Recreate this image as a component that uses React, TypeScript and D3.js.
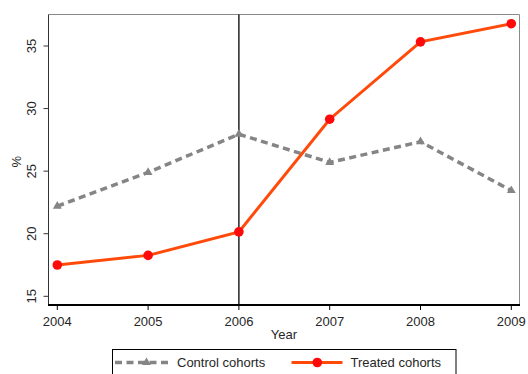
import React from "react";
import * as d3 from "d3";

const years = [2004, 2005, 2006, 2007, 2008, 2009];
const controlValues = [22.2, 24.9, 27.95, 25.7, 27.35, 23.45];
const treatedValues = [17.5, 18.27, 20.15, 29.15, 35.33, 36.78];
const yTicks = [15, 20, 25, 30, 35];
const policyYear = 2006;
const seriesNames = ["Control cohorts", "Treated cohorts"];

const W = 528;
const H = 374;
const plot = { left: 48.5, right: 519.5, top: 14.5, bottom: 305 };
const font = "'Liberation Sans', Arial, sans-serif";
const fs = 13;

export default function App() {
  const x = d3.scaleLinear().domain([2004, 2009]).range([57.3, 511.3]);
  const y = d3.scaleLinear().domain([15, 35]).range([296.3, 46]);

  const lineGen = d3
    .line<[number, number]>()
    .x((d) => x(d[0]))
    .y((d) => y(d[1]));

  const controlPts: [number, number][] = years.map((yr, i) => [yr, controlValues[i]]);
  const treatedPts: [number, number][] = years.map((yr, i) => [yr, treatedValues[i]]);

  const tri = d3.symbol().type(d3.symbolTriangle).size(34)();

  const grey = "#858585";
  const orange = "#ff4a0a";
  const red = "#ff0a0a";
  const ink = "#262626";

  return (
    <svg
      width={W}
      height={H}
      style={{ position: "absolute", left: 0, top: 0, background: "#fff" }}
    >
      <rect x={0} y={0} width={W} height={H} fill="#fff" />
      {/* frame */}
      <line x1={plot.left} x2={plot.right} y1={plot.top} y2={plot.top} stroke="#8a8a8a" strokeWidth={1} />
      <line x1={plot.right} x2={plot.right} y1={plot.top} y2={plot.bottom} stroke="#8a8a8a" strokeWidth={1} />
      <line x1={plot.left} x2={plot.left} y1={plot.top} y2={plot.bottom} stroke="#333" strokeWidth={1} />
      <line x1={plot.left - 0.5} x2={plot.right + 0.5} y1={plot.bottom} y2={plot.bottom} stroke="#000" strokeWidth={2} />

      {/* y axis */}
      {yTicks.map((t) => (
        <g key={t}>
          <line x1={plot.left - 5} x2={plot.left} y1={y(t)} y2={y(t)} stroke="#333" strokeWidth={1} />
          <text
            transform={`translate(36,${y(t)}) rotate(-90)`}
            textAnchor="middle"
            fontFamily={font}
            fontSize={fs}
            fill={ink}
          >
            {t}
          </text>
        </g>
      ))}
      <text
        transform={`translate(21,${(plot.top + plot.bottom) / 2 + 2}) rotate(-90)`}
        textAnchor="middle"
        fontFamily={font}
        fontSize={fs}
        fill={ink}
      >
        %
      </text>

      {/* x axis */}
      {years.map((yr) => (
        <g key={yr}>
          <line x1={x(yr)} x2={x(yr)} y1={plot.bottom} y2={plot.bottom + 5} stroke="#000" strokeWidth={1} />
          <text
            x={x(yr)}
            y={325.5}
            textAnchor="middle"
            fontFamily={font}
            fontSize={fs}
            fill={ink}
          >
            {yr}
          </text>
        </g>
      ))}
      <text x={284} y={339} textAnchor="middle" fontFamily={font} fontSize={fs} fill={ink}>
        Year
      </text>

      {/* policy year */}
      <line x1={x(policyYear)} x2={x(policyYear)} y1={plot.top} y2={plot.bottom} stroke="#000" strokeWidth={1.3} />

      {/* control series */}
      <path
        d={lineGen(controlPts) ?? ""}
        fill="none"
        stroke={grey}
        strokeWidth={3.5}
        strokeDasharray="7 4.5"
      />
      {controlPts.map((p, i) => (
        <path key={i} d={tri ?? ""} transform={`translate(${x(p[0])},${y(p[1])})`} fill={grey} />
      ))}

      {/* treated series */}
      <path d={lineGen(treatedPts) ?? ""} fill="none" stroke={orange} strokeWidth={3} />
      {treatedPts.map((p, i) => (
        <circle key={i} cx={x(p[0])} cy={y(p[1])} r={4.8} fill={red} />
      ))}

      {/* legend */}
      <rect x={112.5} y={349.5} width={343.5} height={30} fill="#fff" stroke="#000" strokeWidth={1} />
      <line x1={115} x2={170} y1={362.5} y2={362.5} stroke={grey} strokeWidth={3.5} strokeDasharray="7 4.5" />
      <path d={tri ?? ""} transform="translate(146.5,362.5)" fill={grey} />
      <text x={177} y={367} fontFamily={font} fontSize={fs} fill={ink}>
        {seriesNames[0]}
      </text>
      <line x1={291.5} x2={342.5} y1={362.5} y2={362.5} stroke={orange} strokeWidth={3} />
      <circle cx={317.3} cy={362.5} r={4.8} fill={red} />
      <text x={350.5} y={367} fontFamily={font} fontSize={fs} fill={ink}>
        {seriesNames[1]}
      </text>
    </svg>
  );
}
